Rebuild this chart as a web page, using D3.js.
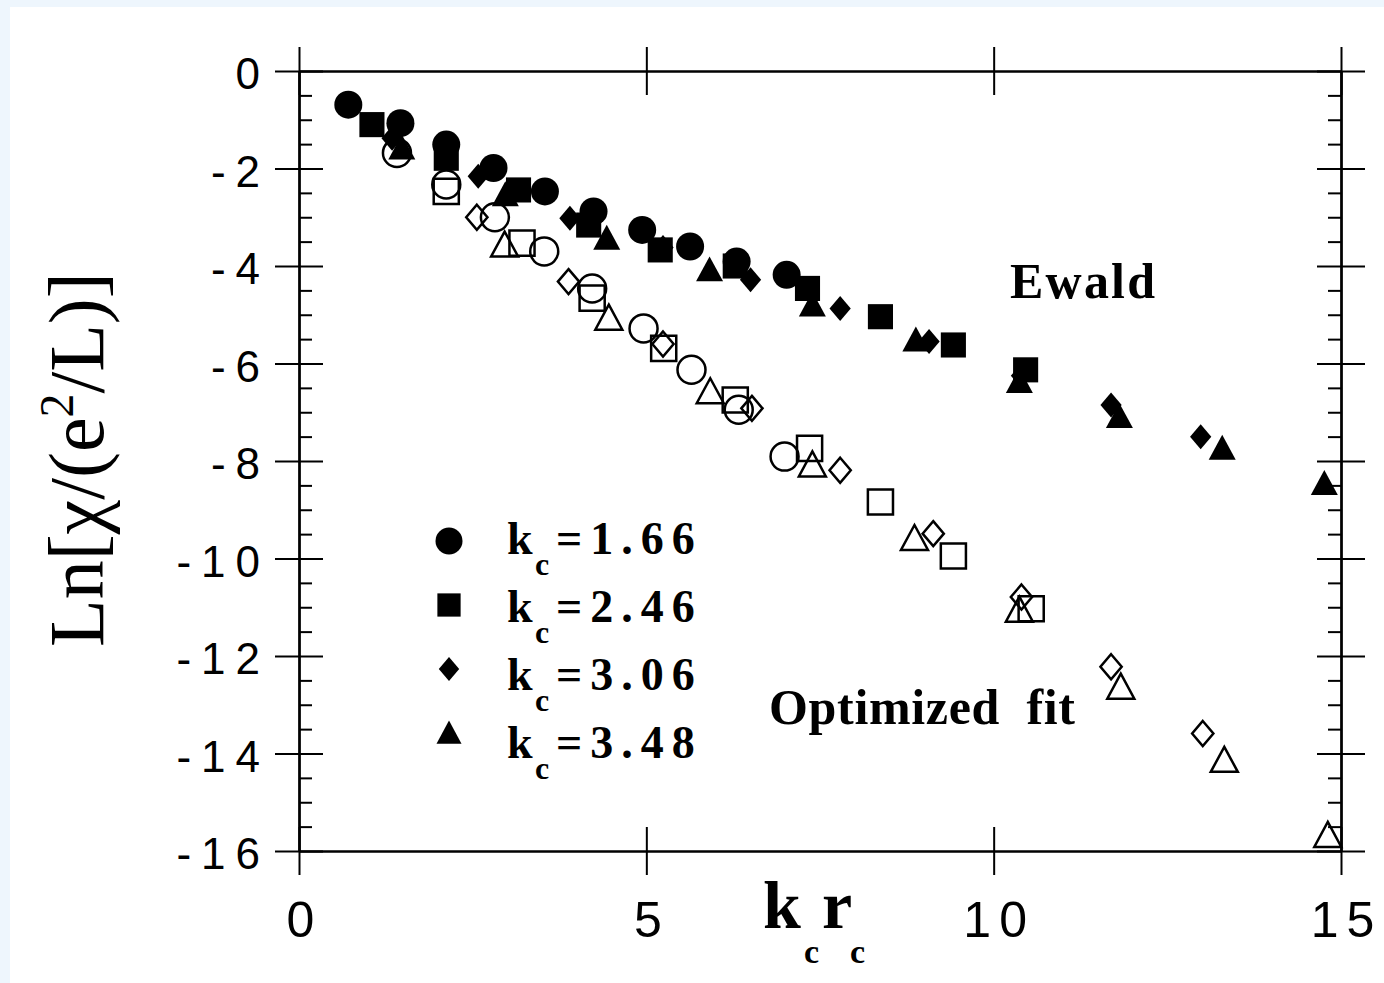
<!DOCTYPE html>
<html>
<head>
<meta charset="UTF-8">
<title>Ewald vs optimized fit</title>
<script src="https://cdn.jsdelivr.net/npm/d3@7"></script>
<style>
    body {
        margin: 0;
        background: #eef6fd;
    }
    svg text { fill: #000; }
    .serif { font-family: "Liberation Serif", "Times New Roman", serif; }
    .sans { font-family: "Liberation Sans", Arial, sans-serif; }
</style>
</head>
<body>
<script>
    // legend labels (k_c values) and marker shapes, one per series
    const kcLabels = ["1.66", "2.46", "3.06", "3.48"];
    const shapeNames = ["circle", "square", "diamond", "triangle"];

    // [k_c r_c, Ln chi], Ewald (filled markers)
    const ewaldCircle = [[0.71, -0.69], [1.46, -1.07], [2.12, -1.51], [2.80, -1.99], [3.54, -2.47],
        [4.24, -2.88], [4.94, -3.26], [5.63, -3.60], [6.30, -3.91], [7.02, -4.18]];
    const ewaldSquare = [[1.05, -1.10], [2.12, -1.79], [3.16, -2.44], [4.17, -3.16], [5.20, -3.67],
        [6.28, -4.00], [7.32, -4.46], [8.37, -5.04], [9.42, -5.62], [10.46, -6.13]];
    const ewaldDiamond = [[1.34, -1.38], [2.58, -2.16], [3.90, -3.02], [5.24, -3.62], [6.50, -4.28],
        [7.79, -4.87], [9.07, -5.55], [10.40, -6.25], [11.69, -6.85], [12.98, -7.50]];
    const ewaldTriangle = [[1.48, -1.58], [2.97, -2.54], [4.43, -3.43], [5.91, -4.08], [7.39, -4.80],
        [8.88, -5.52], [10.37, -6.37], [11.81, -7.09], [13.29, -7.74], [14.76, -8.46]];

    // optimized fit (open markers)
    const fitCircle = [[1.41, -1.68], [2.12, -2.33], [2.82, -3.00], [3.53, -3.70], [4.22, -4.46],
        [4.96, -5.28], [5.65, -6.13], [6.33, -6.95], [6.99, -7.91]];
    const fitSquare = [[2.12, -2.47], [3.21, -3.53], [4.22, -4.66], [5.25, -5.69], [6.28, -6.75],
        [7.35, -7.74], [8.37, -8.84], [9.42, -9.95], [10.54, -11.03]];
    const fitDiamond = [[2.56, -3.00], [3.88, -4.32], [5.24, -5.60], [6.52, -6.92], [7.79, -8.19],
        [9.13, -9.49], [10.40, -10.79], [11.69, -12.22], [13.01, -13.59]];
    const fitTriangle = [[2.96, -3.57], [4.46, -5.07], [5.92, -6.58], [7.39, -8.08], [8.86, -9.59],
        [10.37, -11.06], [11.83, -12.64], [13.32, -14.14], [14.81, -15.68]];

    const xMajor = [0, 5, 10, 15];
    const yMajor = [0, -2, -4, -6, -8, -10, -12, -14, -16];
    const yMinor = d3.range(0, -16.01, -0.5).filter(v => v % 2 !== 0);

    const ewaldSets = [ewaldCircle, ewaldSquare, ewaldDiamond, ewaldTriangle];
    const fitSets = [fitCircle, fitSquare, fitDiamond, fitTriangle];

    const width = 1384, height = 983;
    const x = d3.scaleLinear().domain([0, 15]).range([299, 1341]);
    const y = d3.scaleLinear().domain([-16, 0]).range([851, 71]);

    // custom marker shapes, size = half width
    const symbols = {
        circle: { draw(c, r) { c.moveTo(r, 0); c.arc(0, 0, r, 0, 2 * Math.PI); } },
        square: { draw(c, r) { c.rect(-r * 0.93, -r * 0.93, r * 1.86, r * 1.86); } },
        diamond: { draw(c, r) { const w = r * 0.85, h = r; c.moveTo(0, -h); c.lineTo(w, 0); c.lineTo(0, h); c.lineTo(-w, 0); c.closePath(); } },
        triangle: { draw(c, r) { c.moveTo(0, -r); c.lineTo(r, r * 0.85); c.lineTo(-r, r * 0.85); c.closePath(); } }
    };
    const markerSize = { circle: 14, square: 13.5, diamond: 12.5, triangle: 13.5 };

    function symbolPath(name, r) {
        const p = d3.path();
        symbols[name].draw(p, r);
        return p.toString();
    }

    const svg = d3.select("body").append("svg")
        .attr("width", width).attr("height", height)
        .style("display", "block");

    svg.append("rect").attr("x", 10).attr("y", 7)
        .attr("width", width - 10).attr("height", height - 7)
        .attr("fill", "#fff");

    // frame with crossing major ticks
    const axes = svg.append("g").attr("class", "axes");
    function styleAxis(g) {
        g.selectAll("path.domain").attr("stroke", "#000").attr("stroke-width", 2);
        g.selectAll(".tick line").attr("stroke", "#000").attr("stroke-width", 2);
    }
    const yBottom = y(-16), yTop = y(0), xLeft = x(0), xRight = x(15);

    axes.append("g").attr("transform", `translate(0,${yBottom})`)
        .call(d3.axisBottom(x).tickValues(xMajor).tickSize(24).tickSizeOuter(0).tickPadding(26)
            .tickFormat(d3.format("d")))
        .call(styleAxis)
        .call(g => g.selectAll("text").attr("class", "sans")
            .style("font-size", "50px").style("letter-spacing", "8px")
            .attr("dx", "5px"));
    axes.append("g").attr("transform", `translate(0,${yBottom})`)
        .call(d3.axisTop(x).tickValues(xMajor).tickSize(24).tickSizeOuter(0).tickFormat(""))
        .call(styleAxis);
    axes.append("g").attr("transform", `translate(0,${yTop})`)
        .call(d3.axisTop(x).tickValues(xMajor).tickSize(24).tickSizeOuter(0).tickFormat(""))
        .call(styleAxis);
    axes.append("g").attr("transform", `translate(0,${yTop})`)
        .call(d3.axisBottom(x).tickValues(xMajor).tickSize(24).tickSizeOuter(0).tickFormat(""))
        .call(styleAxis);

    axes.append("g").attr("transform", `translate(${xLeft},0)`)
        .call(d3.axisLeft(y).tickValues(yMajor).tickSize(24).tickSizeOuter(0).tickPadding(12)
            .tickFormat(d => d === 0 ? "0" : "-" + (-d)))
        .call(styleAxis)
        .call(g => g.selectAll("text").attr("class", "sans")
            .style("font-size", "44px").style("letter-spacing", "10px")
            .attr("dx", "7px").attr("dy", "0.40em"));
    axes.append("g").attr("transform", `translate(${xLeft},0)`)
        .call(d3.axisRight(y).tickValues(yMajor).tickSize(24).tickSizeOuter(0).tickFormat(""))
        .call(styleAxis);
    axes.append("g").attr("transform", `translate(${xLeft},0)`)
        .call(d3.axisRight(y).tickValues(yMinor).tickSize(13).tickSizeOuter(0).tickFormat(""))
        .call(styleAxis);

    axes.append("g").attr("transform", `translate(${xRight},0)`)
        .call(d3.axisRight(y).tickValues(yMajor).tickSize(24).tickSizeOuter(0).tickFormat(""))
        .call(styleAxis);
    axes.append("g").attr("transform", `translate(${xRight},0)`)
        .call(d3.axisLeft(y).tickValues(yMajor).tickSize(24).tickSizeOuter(0).tickFormat(""))
        .call(styleAxis);
    axes.append("g").attr("transform", `translate(${xRight},0)`)
        .call(d3.axisLeft(y).tickValues(yMinor).tickSize(13).tickSizeOuter(0).tickFormat(""))
        .call(styleAxis);

    // data markers: open first, filled on top
    const marks = svg.append("g");
    fitSets.forEach((set, i) => {
        const name = shapeNames[i];
        marks.selectAll(null).data(set).join("path")
            .attr("transform", d => `translate(${x(d[0])},${y(d[1])})`)
            .attr("d", symbolPath(name, markerSize[name]))
            .attr("fill", "none").attr("stroke", "#000").attr("stroke-width", 2.5);
    });
    ewaldSets.forEach((set, i) => {
        const name = shapeNames[i];
        marks.selectAll(null).data(set).join("path")
            .attr("transform", d => `translate(${x(d[0])},${y(d[1])})`)
            .attr("d", symbolPath(name, markerSize[name]))
            .attr("fill", "#000");
    });

    // legend
    const legend = svg.append("g");
    const legendSize = { circle: 13.5, square: 12.5, diamond: 12, triangle: 12.5 };
    kcLabels.forEach((lab, i) => {
        const cy = 541 + i * 64;
        legend.append("path")
            .attr("transform", `translate(449,${cy})`)
            .attr("d", symbolPath(shapeNames[i], legendSize[shapeNames[i]]))
            .attr("fill", "#000");
        const t = legend.append("text").attr("class", "serif")
            .attr("font-weight", "bold").style("font-size", "46px")
            .attr("x", 507).attr("y", cy + 13 + i * 4);
        t.append("tspan").text("k");
        t.append("tspan").attr("x", 535).attr("dy", 21).style("font-size", "32px").text("c");
        t.append("tspan").attr("x", 556).attr("dy", -21).style("letter-spacing", "8px").text("=" + lab);
    });

    // annotations
    svg.append("text").attr("class", "serif").attr("font-weight", "bold")
        .style("font-size", "50px").attr("x", 1010).attr("y", 298)
        .attr("textLength", 145).attr("lengthAdjust", "spacing")
        .text("Ewald");
    svg.append("text").attr("class", "serif").attr("font-weight", "bold")
        .style("font-size", "50px").attr("x", 769).attr("y", 724)
        .attr("textLength", 306).attr("lengthAdjust", "spacing")
        .style("white-space", "pre")
        .text("Optimized  fit");

    // axis titles
    const xt = svg.append("text").attr("class", "serif").attr("font-weight", "bold")
        .style("font-size", "68px").attr("x", 763).attr("y", 928);
    xt.append("tspan").text("k");
    xt.append("tspan").attr("x", 804).attr("dy", 35).style("font-size", "34px").text("c");
    xt.append("tspan").attr("x", 822).attr("dy", -35).text("r");
    xt.append("tspan").attr("x", 850).attr("dy", 35).style("font-size", "34px").text("c");

    const yt = svg.append("text").attr("class", "serif")
        .style("font-size", "78px")
        .attr("transform", "translate(103,647) rotate(-90)");
    yt.append("tspan").text("Ln[χ/(e");
    yt.append("tspan").attr("dy", -30).style("font-size", "48px").text("2");
    yt.append("tspan").attr("dy", 30).text("/L)]");
</script>
</body>
</html>
